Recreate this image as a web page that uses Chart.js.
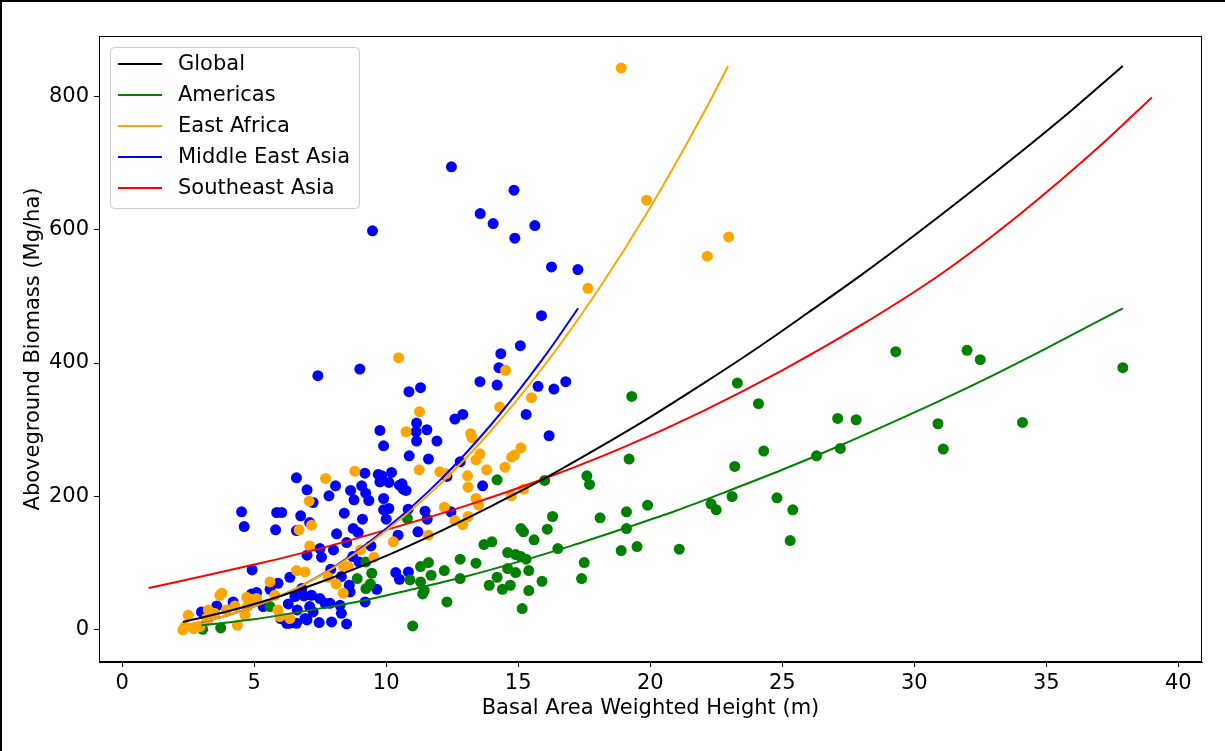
<!DOCTYPE html>
<html>
<head>
<meta charset="utf-8">
<script src="https://cdn.jsdelivr.net/npm/chart.js@4.4.0/dist/chart.umd.min.js"></script>
<style>
  html, body { margin: 0; padding: 0; background: #fff; }
  #wrap { position: relative; width: 1225px; height: 751px; }
</style>
</head>
<body>
<div id="wrap"><canvas id="chart" width="1225" height="751"></canvas></div>
<script>
// Axis ticks
const xTicks = [0, 5, 10, 15, 20, 25, 30, 35, 40];
const yTicks = [0, 200, 400, 600, 800];

// Fitted curves
const globalX = [2.3, 4, 6, 8, 10, 12, 14, 16, 18, 20, 22, 24, 26, 28, 30, 32, 34, 36, 37.9];
const globalY = [12, 28, 51, 79, 111, 147, 186, 227, 272, 319, 369, 421, 476, 532, 591, 652, 715, 780, 845];

const americasX = [3, 5, 7, 9, 11, 13, 15, 17, 19, 21, 23, 25, 27, 29, 31, 33, 35, 37.9];
const americasY = [7, 16, 29, 43, 61, 80, 102, 126, 152, 179, 209, 240, 273, 308, 344, 382, 422, 482];

const eastAfricaX = [2.3, 4, 6, 8, 10, 12, 14, 16, 18, 20, 22, 22.95];
const eastAfricaY = [7, 22, 51, 93, 149, 217, 300, 397, 508, 633, 773, 845];

const meAsiaX = [3, 4, 6, 8, 10, 12, 14, 16, 17.27];
const meAsiaY = [12, 22, 51, 94, 152, 223, 309, 410, 482];

const seAsiaX = [1, 3, 5, 7, 10, 13, 16, 19, 22, 25, 28, 31, 34, 37, 39];
const seAsiaY = [63, 80, 98, 117, 150, 186, 227, 274, 328, 389, 457, 533, 623, 724, 798];

// Observed plots
const americasPtsX = [19.3, 23.3, 24.1, 29.3, 32.0, 32.5, 27.1, 27.8, 30.9, 31.1, 19.2, 24.3, 26.3, 27.2, 23.2,
  18.1, 19.1, 19.9, 19.1, 18.9, 19.5, 21.1, 22.3, 22.5, 23.1, 24.8, 25.4, 25.3, 37.9, 34.1,
  14.2, 16.0, 17.6, 17.7, 10.8, 13.7, 14.0, 14.6, 14.9, 15.1, 15.3, 15.1, 15.2, 15.6, 16.1,
  16.3, 16.5, 17.5, 17.4, 15.9, 15.4, 15.4, 14.9, 14.6, 14.7, 14.4, 14.2, 13.9, 15.15, 13.4,
  12.8, 12.8, 12.2, 12.3, 11.7, 11.6, 11.3, 11.3, 11.44, 11.38, 10.9, 11.0, 9.23, 9.45, 8.9,
  9.4, 9.23, 3.05, 3.73, 5.6];
const americasPtsY = [350, 370, 339, 417, 419, 405, 317, 315, 309, 271, 256, 268, 261, 272, 245,
  168, 177, 187, 152, 119, 125, 121, 189, 180, 200, 198, 180, 134, 393, 311,
  225, 224, 231, 218, 167, 128, 132, 116, 113, 110, 106, 152, 147, 135, 151,
  170, 122, 101, 77, 73, 89, 59, 86, 92, 67, 61, 79, 67, 32, 100,
  106, 77, 89, 42, 82, 101, 95, 72, 59, 54, 75, 6, 102, 85, 77,
  69, 62, 1, 3, 35];

const eastAfricaPtsX = [18.9, 19.86, 22.97, 22.16, 17.64, 10.47, 14.52, 15.5, 14.3, 11.26, 10.75, 13.2, 13.25, 15.1,
  14.86, 14.75, 13.55, 13.4, 11.25, 12.03, 12.26, 13.8, 14.5, 13.08, 13.1, 13.4, 13.5, 14.74, 15.2,
  12.2, 12.6, 12.9, 13.1, 11.6, 10.27, 8.81, 7.7, 7.08, 7.17, 6.7, 7.1, 9.03, 9.53, 8.37, 8.56,
  7.8, 8.1, 8.37, 6.92, 6.6, 3.77, 3.7, 2.5, 3.26, 3.95, 2.37, 2.7, 2.94, 4.36, 3.26, 4.27,
  4.71, 4.9, 5.09, 4.65, 4.74, 5.6, 5.78, 5.9, 5.97, 6.35, 3.2, 3.5, 2.3];
const eastAfricaPtsY = [842, 644, 589, 560, 512, 408, 389, 348, 334, 327, 297, 294, 288, 273,
  262, 259, 264, 255, 240, 237, 234, 240, 244, 231, 214, 197, 187, 201, 211,
  184, 164, 158, 170, 142, 132, 238, 227, 193, 157, 150, 126, 120, 109, 96, 95,
  79, 69, 55, 87, 89, 55, 52, 22, 30, 30, 5, 2, 5, 7, 15, 36,
  49, 46, 47, 22, 35, 72, 52, 30, 20, 17, 18, 25, 0];

const meAsiaPtsX = [12.47, 14.84, 13.56, 14.05, 14.87, 15.63, 9.48, 16.26, 17.26, 15.88, 15.08, 14.34, 14.27, 13.55,
  14.2, 15.75, 16.35, 16.8, 7.41, 9.0, 10.86, 11.3, 15.3, 12.9, 12.6, 11.15, 11.13, 11.54, 11.15,
  11.92, 16.17, 9.76, 9.9, 10.87, 11.6, 12.8, 12.3, 13.65, 10.6, 10.2, 9.83, 10.1, 10.5, 10.64,
  10.75, 9.9, 10.1, 9.9, 10.83, 11.47, 11.55, 12.45, 10.0, 10.45, 11.2, 10.36, 10.5, 10.84, 9.19,
  9.7, 7.0, 8.08, 8.65, 9.07, 9.22, 9.34, 9.76, 7.23, 7.83, 8.78, 8.41, 9.1, 6.76, 7.1, 8.75,
  8.94, 8.5, 8.0, 7.49, 9.42, 7.0, 7.55, 8.73, 8.97, 7.9, 8.3, 8.6, 9.64, 6.8, 7.17, 7.49,
  7.68, 8.25, 8.3, 8.63, 9.2, 8.5, 7.46, 6.92, 7.23, 7.93, 4.52, 4.62, 5.85, 6.04, 5.81, 6.6,
  6.6, 4.92, 3.58, 3.0, 4.2, 4.9, 5.09, 5.6, 5.9, 6.35, 6.23, 6.88, 6.63, 5.34, 6.6, 7.0,
  6.33, 6.0, 7.1, 7.87, 6.54, 6.29, 8.12];
const meAsiaPtsY = [694, 659, 624, 609, 587, 606, 598, 544, 540, 471, 426, 414, 393, 372,
  367, 365, 361, 372, 381, 391, 357, 363, 323, 323, 316, 310, 297, 300, 283,
  283, 291, 299, 276, 261, 256, 252, 230, 216, 219, 236, 231, 221, 217, 211,
  209, 197, 182, 180, 181, 178, 166, 177, 166, 142, 147, 86, 76, 87, 235,
  233, 210, 216, 209, 216, 205, 194, 222, 191, 201, 195, 175, 166, 171, 161, 152,
  146, 131, 120, 122, 126, 112, 109, 110, 102, 91, 80, 67, 61, 62, 52, 47,
  40, 37, 25, 57, 42, 9, 11, 17, 27, 12, 177, 155, 176, 176, 150, 149,
  228, 90, 36, 27, 42, 54, 56, 61, 70, 79, 10, 51, 30, 35, 10, 15,
  10, 17, 35, 40, 50, 39, 144];

const lineLabels = ['Global', 'Americas', 'East Africa', 'Middle East Asia', 'Southeast Asia'];
const lineColors = ['#000000', '#008000', '#ffa500', '#0000ff', '#ff0000'];

function pairs(xs, ys) {
  return xs.map((x, i) => ({ x: x, y: ys[i] }));
}

const curveSets = [
  pairs(globalX, globalY),
  pairs(americasX, americasY),
  pairs(eastAfricaX, eastAfricaY),
  pairs(meAsiaX, meAsiaY),
  pairs(seAsiaX, seAsiaY)
];

const lineDatasets = curveSets.map((pts, i) => ({
  label: lineLabels[i],
  data: pts,
  showLine: true,
  borderColor: lineColors[i],
  backgroundColor: lineColors[i],
  borderWidth: 2,
  pointRadius: 0,
  cubicInterpolationMode: 'monotone',
  fill: false,
  order: 0
}));

function dots(pts, color, order) {
  return {
    label: '_dots',
    data: pts,
    showLine: false,
    pointRadius: 5.5,
    pointBorderWidth: 0,
    pointBackgroundColor: color,
    pointBorderColor: color,
    order: order
  };
}

const dotDatasets = [
  dots(pairs(eastAfricaPtsX, eastAfricaPtsY), '#ffa500', 1),
  dots(pairs(americasPtsX, americasPtsY), '#008000', 2),
  dots(pairs(meAsiaPtsX, meAsiaPtsY), '#0000ff', 3)
];

const FONT = 'DejaVu Sans';
const FSIZE = 21;

// legend box drawn inside the axes, plus frame
const framePlugin = {
  id: 'frame',
  afterDraw(chart) {
    const ctx = chart.ctx;
    const a = chart.chartArea;
    ctx.save();
    ctx.strokeStyle = '#000';
    ctx.lineWidth = 1;
    ctx.strokeRect(Math.round(a.left) + 0.5, Math.round(a.top) + 0.5,
      Math.round(a.right - a.left) - 1, Math.round(a.bottom - a.top) - 1);

    // legend
    const bx = 110.5, by = 47.5, bw = 249, bh = 161, r = 4;
    ctx.beginPath();
    ctx.moveTo(bx + r, by);
    ctx.lineTo(bx + bw - r, by);
    ctx.quadraticCurveTo(bx + bw, by, bx + bw, by + r);
    ctx.lineTo(bx + bw, by + bh - r);
    ctx.quadraticCurveTo(bx + bw, by + bh, bx + bw - r, by + bh);
    ctx.lineTo(bx + r, by + bh);
    ctx.quadraticCurveTo(bx, by + bh, bx, by + bh - r);
    ctx.lineTo(bx, by + r);
    ctx.quadraticCurveTo(bx, by, bx + r, by);
    ctx.closePath();
    ctx.fillStyle = 'rgba(255,255,255,0.8)';
    ctx.fill();
    ctx.strokeStyle = '#cccccc';
    ctx.stroke();

    ctx.font = FSIZE + 'px "' + FONT + '"';
    ctx.textBaseline = 'middle';
    ctx.textAlign = 'left';
    lineLabels.forEach((lab, i) => {
      const y = 64 + i * 31;
      ctx.strokeStyle = lineColors[i];
      ctx.lineWidth = 2;
      ctx.beginPath();
      ctx.moveTo(118, y);
      ctx.lineTo(162, y);
      ctx.stroke();
      ctx.fillStyle = '#000';
      ctx.fillText(lab, 178, y + 1);
    });

    // figure edge
    ctx.fillStyle = '#000';
    ctx.fillRect(0, 0, 2, 751);
    ctx.fillRect(0, 0, 1225, 2);
    ctx.restore();
  }
};

const ctx = document.getElementById('chart').getContext('2d');
const chart = new Chart(ctx, {
  type: 'scatter',
  data: { datasets: lineDatasets.concat(dotDatasets) },
  options: {
    responsive: false,
    animation: false,
    devicePixelRatio: 1,
    layout: { padding: { left: 0, right: 23, top: 36, bottom: 0 } },
    plugins: {
      legend: { display: false },
      tooltip: { enabled: false }
    },
    scales: {
      x: {
        type: 'linear',
        min: -0.88,
        max: 40.9,
        afterBuildTicks: s => { s.ticks = xTicks.map(v => ({ value: v })); },
        afterFit: s => { s.height = 89; },
        grid: { drawOnChartArea: false, drawTicks: true, tickLength: 5, tickColor: '#000' },
        border: { display: true, color: '#000', width: 1 },
        ticks: { color: '#000', font: { family: FONT, size: FSIZE }, padding: 4, maxRotation: 0 },
        title: {
          display: true,
          text: 'Basal Area Weighted Height (m)',
          color: '#000',
          font: { family: FONT, size: FSIZE },
          padding: { top: 0, bottom: 30 }
        }
      },
      y: {
        type: 'linear',
        min: -48,
        max: 890,
        afterBuildTicks: s => { s.ticks = yTicks.map(v => ({ value: v })); },
        afterFit: s => { s.width = 99; },
        grid: { drawOnChartArea: false, drawTicks: true, tickLength: 5, tickColor: '#000' },
        border: { display: true, color: '#000', width: 1 },
        ticks: { color: '#000', font: { family: FONT, size: FSIZE }, padding: 5 },
        title: {
          display: true,
          text: 'Aboveground Biomass (Mg/ha)',
          color: '#000',
          font: { family: FONT, size: FSIZE },
          padding: { top: 21, bottom: 0 }
        }
      }
    }
  },
  plugins: [framePlugin]
});
</script>
</body>
</html>
